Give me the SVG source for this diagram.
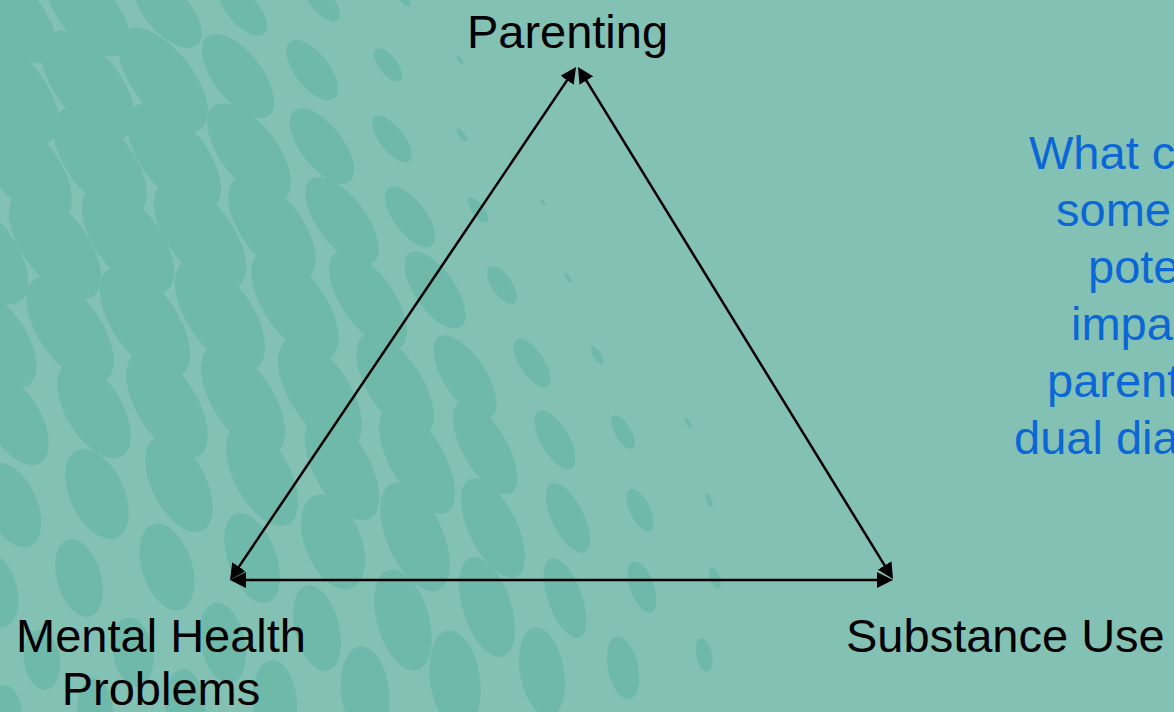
<svg xmlns="http://www.w3.org/2000/svg" width="1174" height="712" viewBox="0 0 1174 712">
<style>
.bg{fill:#83c1b5}
.d{fill:#6fb9ab}
.lbl{font-family:"Liberation Sans",Arial,sans-serif;font-size:47px;fill:#000}
.q{font-family:"Liberation Sans",Arial,sans-serif;font-size:47px;fill:#0b67d5}
.conn{stroke:#000;stroke-width:2.5;fill:none;marker-start:url(#ah);marker-end:url(#ah)}
</style>
<defs>
<marker id="ah" markerUnits="userSpaceOnUse" markerWidth="16" markerHeight="16" viewBox="0 0 16 16" refX="2" refY="8" orient="auto-start-reverse">
<path d="M0,0 L16,8 L0,16 z" fill="#000"/>
</marker>
</defs>
<g id="background">
<rect class="bg" x="0" y="0" width="1174" height="712"/>
<!-- row 0 -->
<ellipse class="d" cx="403" cy="-2" rx="10" ry="4" transform="rotate(48 403 -2)"/>
<ellipse class="d" cx="322" cy="2" rx="24" ry="11" transform="rotate(48 322 2)"/>
<ellipse class="d" cx="243" cy="10" rx="32" ry="15" transform="rotate(48 243 10)"/>
<ellipse class="d" cx="168" cy="12" rx="44" ry="22" transform="rotate(48 168 12)"/>
<ellipse class="d" cx="88" cy="12" rx="54" ry="28" transform="rotate(48 88 12)"/>
<ellipse class="d" cx="10" cy="14" rx="60" ry="30" transform="rotate(48 10 14)"/>
<!-- row 1 -->
<ellipse class="d" cx="460" cy="60" rx="5" ry="2" transform="rotate(52 460 60)"/>
<ellipse class="d" cx="388" cy="65" rx="20" ry="9" transform="rotate(52 388 65)"/>
<ellipse class="d" cx="312" cy="70" rx="36" ry="17" transform="rotate(52 312 70)"/>
<ellipse class="d" cx="238" cy="76" rx="50" ry="24" transform="rotate(52 238 76)"/>
<ellipse class="d" cx="163" cy="80" rx="62" ry="30" transform="rotate(52 163 80)"/>
<ellipse class="d" cx="88" cy="85" rx="64" ry="32" transform="rotate(52 88 85)"/>
<ellipse class="d" cx="12" cy="90" rx="64" ry="32" transform="rotate(52 12 90)"/>
<!-- row 2 -->
<ellipse class="d" cx="462" cy="135" rx="8" ry="3" transform="rotate(52 462 135)"/>
<ellipse class="d" cx="392" cy="139" rx="28" ry="12" transform="rotate(52 392 139)"/>
<ellipse class="d" cx="322" cy="146" rx="45" ry="21" transform="rotate(52 322 146)"/>
<ellipse class="d" cx="249" cy="152" rx="58" ry="28" transform="rotate(52 249 152)"/>
<ellipse class="d" cx="174" cy="157" rx="64" ry="32" transform="rotate(52 174 157)"/>
<ellipse class="d" cx="100" cy="162" rx="64" ry="32" transform="rotate(52 100 162)"/>
<ellipse class="d" cx="25" cy="167" rx="64" ry="32" transform="rotate(52 25 167)"/>
<!-- row 3 -->
<ellipse class="d" cx="543" cy="202" rx="4" ry="1.5" transform="rotate(53 543 202)"/>
<ellipse class="d" cx="478" cy="210" rx="15" ry="6" transform="rotate(53 478 210)"/>
<ellipse class="d" cx="410" cy="217" rx="36" ry="16" transform="rotate(53 410 217)"/>
<ellipse class="d" cx="342" cy="221" rx="52" ry="24" transform="rotate(53 342 221)"/>
<ellipse class="d" cx="272" cy="228" rx="61" ry="30" transform="rotate(53 272 228)"/>
<ellipse class="d" cx="200" cy="235" rx="64" ry="32" transform="rotate(53 200 235)"/>
<ellipse class="d" cx="128" cy="240" rx="64" ry="32" transform="rotate(53 128 240)"/>
<ellipse class="d" cx="55" cy="245" rx="64" ry="32" transform="rotate(53 55 245)"/>
<ellipse class="d" cx="-18" cy="250" rx="64" ry="32" transform="rotate(53 -18 250)"/>
<!-- row 4 -->
<ellipse class="d" cx="568" cy="278" rx="6" ry="2" transform="rotate(55 568 278)"/>
<ellipse class="d" cx="502" cy="285" rx="22" ry="10" transform="rotate(55 502 285)"/>
<ellipse class="d" cx="435" cy="290" rx="45" ry="20" transform="rotate(55 435 290)"/>
<ellipse class="d" cx="368" cy="300" rx="57" ry="26" transform="rotate(55 368 300)"/>
<ellipse class="d" cx="295" cy="305" rx="63" ry="30" transform="rotate(55 295 305)"/>
<ellipse class="d" cx="220" cy="315" rx="64" ry="32" transform="rotate(55 220 315)"/>
<ellipse class="d" cx="145" cy="322" rx="64" ry="32" transform="rotate(55 145 322)"/>
<ellipse class="d" cx="70" cy="330" rx="62" ry="31" transform="rotate(55 70 330)"/>
<ellipse class="d" cx="-5" cy="338" rx="58" ry="30" transform="rotate(55 -5 338)"/>
<!-- row 5 -->
<ellipse class="d" cx="597" cy="355" rx="10" ry="4" transform="rotate(57 597 355)"/>
<ellipse class="d" cx="532" cy="363" rx="28" ry="12" transform="rotate(57 532 363)"/>
<ellipse class="d" cx="465" cy="377" rx="48" ry="21" transform="rotate(57 465 377)"/>
<ellipse class="d" cx="395" cy="385" rx="58" ry="27" transform="rotate(57 395 385)"/>
<ellipse class="d" cx="320" cy="393" rx="62" ry="30" transform="rotate(57 320 393)"/>
<ellipse class="d" cx="243" cy="400" rx="62" ry="30" transform="rotate(57 243 400)"/>
<ellipse class="d" cx="167" cy="405" rx="60" ry="30" transform="rotate(58 167 405)"/>
<ellipse class="d" cx="94" cy="410" rx="54" ry="28" transform="rotate(59 94 410)"/>
<ellipse class="d" cx="15" cy="420" rx="50" ry="26" transform="rotate(60 15 420)"/>
<!-- row 6 -->
<ellipse class="d" cx="688" cy="423" rx="6" ry="2" transform="rotate(60 688 423)"/>
<ellipse class="d" cx="623" cy="432" rx="19" ry="8" transform="rotate(60 623 432)"/>
<ellipse class="d" cx="555" cy="440" rx="33" ry="14" transform="rotate(60 555 440)"/>
<ellipse class="d" cx="485" cy="448" rx="52" ry="22" transform="rotate(60 485 448)"/>
<ellipse class="d" cx="417" cy="460" rx="60" ry="27" transform="rotate(60 417 460)"/>
<ellipse class="d" cx="342" cy="468" rx="58" ry="28" transform="rotate(61 342 468)"/>
<ellipse class="d" cx="262" cy="475" rx="56" ry="28" transform="rotate(62 262 475)"/>
<ellipse class="d" cx="179" cy="484" rx="52" ry="27" transform="rotate(63 179 484)"/>
<ellipse class="d" cx="97" cy="494" rx="48" ry="27" transform="rotate(65 97 494)"/>
<ellipse class="d" cx="12" cy="505" rx="45" ry="25" transform="rotate(66 12 505)"/>
<!-- row 7 -->
<ellipse class="d" cx="709" cy="500" rx="7" ry="3" transform="rotate(64 709 500)"/>
<ellipse class="d" cx="640" cy="510" rx="23" ry="10" transform="rotate(64 640 510)"/>
<ellipse class="d" cx="568" cy="518" rx="38" ry="16" transform="rotate(64 568 518)"/>
<ellipse class="d" cx="493" cy="528" rx="54" ry="24" transform="rotate(64 493 528)"/>
<ellipse class="d" cx="415" cy="537" rx="58" ry="28" transform="rotate(66 415 537)"/>
<ellipse class="d" cx="333" cy="542" rx="50" ry="28" transform="rotate(68 333 542)"/>
<ellipse class="d" cx="252" cy="558" rx="47" ry="24" transform="rotate(70 252 558)"/>
<ellipse class="d" cx="167" cy="567" rx="45" ry="25" transform="rotate(72 167 567)"/>
<ellipse class="d" cx="79" cy="578" rx="40" ry="22" transform="rotate(74 79 578)"/>
<ellipse class="d" cx="-5" cy="590" rx="38" ry="22" transform="rotate(75 -5 590)"/>
<!-- row 8 -->
<ellipse class="d" cx="715" cy="578" rx="11" ry="5" transform="rotate(70 715 578)"/>
<ellipse class="d" cx="642" cy="587" rx="27" ry="12" transform="rotate(70 642 587)"/>
<ellipse class="d" cx="565" cy="598" rx="42" ry="17" transform="rotate(70 565 598)"/>
<ellipse class="d" cx="487" cy="607" rx="52" ry="24" transform="rotate(72 487 607)"/>
<ellipse class="d" cx="403" cy="620" rx="52" ry="26" transform="rotate(74 403 620)"/>
<ellipse class="d" cx="317" cy="628" rx="44" ry="22" transform="rotate(76 317 628)"/>
<ellipse class="d" cx="223" cy="643" rx="41" ry="22" transform="rotate(78 223 643)"/>
<ellipse class="d" cx="133" cy="652" rx="35" ry="20" transform="rotate(80 133 652)"/>
<ellipse class="d" cx="42" cy="660" rx="30" ry="18" transform="rotate(82 42 660)"/>
<!-- row 9 -->
<ellipse class="d" cx="704" cy="655" rx="17" ry="8" transform="rotate(78 704 655)"/>
<ellipse class="d" cx="623" cy="668" rx="32" ry="15" transform="rotate(78 623 668)"/>
<ellipse class="d" cx="542" cy="672" rx="45" ry="22" transform="rotate(80 542 672)"/>
<ellipse class="d" cx="455" cy="680" rx="50" ry="25" transform="rotate(82 455 680)"/>
<ellipse class="d" cx="365" cy="692" rx="46" ry="24" transform="rotate(84 365 692)"/>
<ellipse class="d" cx="275" cy="702" rx="42" ry="22" transform="rotate(85 275 702)"/>
<ellipse class="d" cx="185" cy="707" rx="38" ry="20" transform="rotate(86 185 707)"/>
<ellipse class="d" cx="95" cy="712" rx="34" ry="18" transform="rotate(87 95 712)"/>
<ellipse class="d" cx="5" cy="715" rx="30" ry="17" transform="rotate(88 5 715)"/>
</g>
<g id="connectors">
<line class="conn" x1="568.2" y1="78.6" x2="237.8" y2="568.4"/>
<line class="conn" x1="585.3" y1="78.9" x2="885.7" y2="567.1"/>
<line class="conn" x1="244" y1="580" x2="879" y2="580"/>
</g>
<g id="node-parenting">
<text class="lbl" x="567.5" y="47.5" text-anchor="middle">Parenting</text>
</g>
<g id="node-mental-health">
<text class="lbl" x="161" y="652" text-anchor="middle">Mental Health</text>
<text class="lbl" x="161" y="705" text-anchor="middle">Problems</text>
</g>
<g id="node-substance-use">
<text class="lbl" x="846" y="652">Substance Use</text>
</g>
<g id="question">
<text class="q" x="1029" y="169">What c</text>
<text class="q" x="1056" y="226">some</text>
<text class="q" x="1088" y="283">pote</text>
<text class="q" x="1071" y="340">impa</text>
<text class="q" x="1047" y="397">parent</text>
<text class="q" x="1014" y="454">dual dia</text>
</g>
</svg>
